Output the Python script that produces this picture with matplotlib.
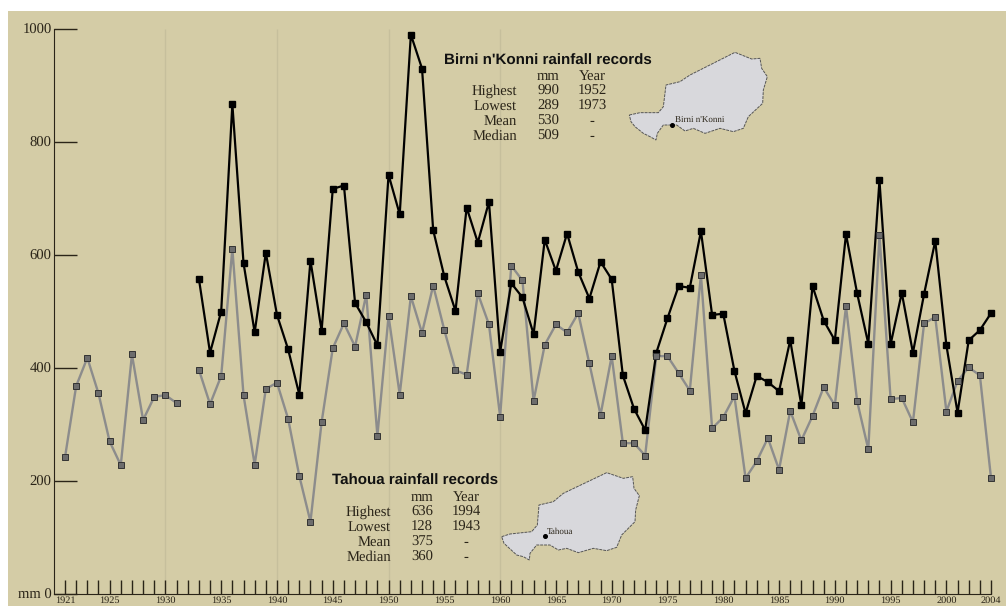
import numpy as np
import matplotlib
matplotlib.use('Agg')
import matplotlib.pyplot as plt
from matplotlib.patches import Polygon

plt.rcParams['text.hinting'] = 'no_hinting'

W = 1006
H = 606

bg = '#d4cca6'
ink = '#2a2418'

########################## data ################################

tahoua_years = np.arange(1921, 2005)
tahoua_mm = [242, 368, 418, 355, 270, 228, 424, 308, 349, 352, 338, np.nan,
             397, 336, 386, 611, 352, 229, 363, 374, 310, 209, 128, 304,
             435, 479, 438, 530, 280, 492, 353, 527, 462, 546, 467, 396,
             388, 532, 477, 314, 581, 555, 342, 441, 477, 463, 497, 408,
             317, 421, 267, 267, 245, 421, 421, 391, 360, 565, 293, 313,
             350, 205, 235, 276, 220, 324, 272, 315, 366, 334, 509, 341,
             256, 635, 345, 347, 304, 479, 490, 323, 377, 401, 387, 205]

konni_years = np.arange(1933, 2005)
konni_mm = [558, 427, 500, 867, 586, 463, 604, 494, 433, 353, 590, 466,
            717, 723, 515, 481, 440, 742, 672, 990, 930, 644, 562, 501,
            684, 622, 694, 428, 550, 525, 460, 627, 572, 638, 570, 523,
            588, 557, 387, 328, 290, 427, 488, 545, 542, 642, 494, 496,
            395, 320, 386, 375, 359, 449, 334, 545, 484, 449, 637, 532,
            443, 732, 442, 533, 427, 531, 625, 440, 321, 449, 467, 497]

y_ticks = [0, 200, 400, 600, 800, 1000]
y_labels = ['mm 0', '200', '400', '600', '800', '1000']
label_years = [1921, 1925] + list(range(1930, 2001, 5)) + [2004]
grid_years = [1930, 1940, 1950, 1960]

row_names = ['Highest', 'Lowest', 'Mean', 'Median']
tahoua_rows = [('636', '1994'), ('128', '1943'), ('375', '-'), ('360', '-')]
konni_rows = [('990', '1952'), ('289', '1973'), ('530', '-'), ('509', '-')]

# outlines of the little maps, in pixels of the picture
map_tahoua = [(35,230),(60,222),(125,215),(142,195),(147,135),(190,125),(220,100),
              (350,38),(400,55),(428,50),(432,85),(448,107),(437,150),(435,185),
              (395,225),(380,262),(350,272),(310,265),(265,278),(230,265),(205,270),
              (180,255),(140,255),(120,280),(118,300),(100,290),(80,285),(55,262),(42,250)]
map_konni = [(28,210),(60,203),(115,203),(130,185),(138,120),(180,110),(210,90),
             (345,22),(395,42),(420,40),(425,70),(442,95),(430,135),(428,175),
             (385,215),(370,250),(340,260),(300,250),(255,265),(220,250),(195,258),
             (170,240),(130,240),(112,265),(108,285),(90,275),(70,265),(45,245),(33,230)]

#################################################################

def fx(px):
	return px/W

def fy(py):
	return 1 - py/H

def records(title, rows, tx, ty, name_x, mm_x, year_x, row_y):
	fig.text(fx(tx), fy(ty), title, family='Liberation Sans', weight='bold',
		fontsize=10.9, va='center', ha='left', color='#111111')
	fig.text(fx(mm_x), fy(row_y[0]), 'mm', ha='right', va='center', **serif)
	fig.text(fx(year_x), fy(row_y[0]), 'Year', ha='center', va='center', **serif)
	for i in range(4):
		y = fy(row_y[i+1])
		fig.text(fx(name_x), y, row_names[i], ha='right', va='center_baseline', **serif)
		fig.text(fx(mm_x), y, rows[i][0], ha='right', va='center_baseline', **serif)
		fig.text(fx(year_x), y, rows[i][1], ha='center', va='center_baseline', **serif)

def niger(points, ox, oy, dot, name, name_x, name_y, size):
	pts = [(fx(ox + p[0]/3), fy(oy + p[1]/3)) for p in points]
	fig.add_artist(Polygon(pts, closed=True, transform=fig.transFigure, facecolor='#d8d8dc',
		edgecolor='#555555', linewidth=0.7, linestyle=(0, (3, 1)), zorder=3))
	fig.add_artist(plt.Line2D([fx(ox + dot[0]/3)], [fy(oy + dot[1]/3)], transform=fig.transFigure,
		marker='o', markersize=2.6, color='black', zorder=4))
	fig.text(fx(ox + name_x/3), fy(oy + name_y/3), name, family='Liberation Serif', fontsize=size,
		va='center', ha='left', color=ink, zorder=5)

serif = dict(family='Liberation Serif', fontsize=10.5, color=ink)

fig = plt.figure(figsize=(W/100, H/100), dpi=100, facecolor='white')
ax = fig.add_axes([8/W, 0, (W-8)/W, 1 - 11/H])
ax.set_facecolor(bg)

px_year = 11.157
px_mm = 0.565
ax.set_xlim(1921 + (8-65)/px_year, 1921 + (W-65)/px_year)
ax.set_ylim((594-606)/px_mm, (594-11)/px_mm)

for s in ['top', 'right']:
	ax.spines[s].set_visible(False)
ax.spines['left'].set_position(('data', 1920))
ax.spines['left'].set_bounds(0, 1000)
ax.spines['bottom'].set_position(('data', 0))
ax.spines['bottom'].set_bounds(1920, 2004)
ax.spines['left'].set_color(ink)
ax.spines['bottom'].set_color(ink)

ax.vlines(grid_years, 0, 1000, color='#c6bf9c', linewidth=1, zorder=1)

ax.set_yticks(y_ticks)
ax.set_yticklabels(y_labels, family='Liberation Serif', fontsize=10.5, color=ink, va='center_baseline')
ax.tick_params(axis='y', direction='in', length=16.8, width=1, color=ink, pad=1.5)

ax.set_xticks(tahoua_years)
ax.set_xticklabels([str(y) if y in label_years else '' for y in tahoua_years],
	family='Liberation Serif', fontsize=7.4, color=ink)
ax.tick_params(axis='x', direction='in', length=10, width=1, color=ink, pad=1.5)

ax.plot(tahoua_years, tahoua_mm, color='#8c8c8c', linewidth=1.7, zorder=2)
ax.plot(konni_years, konni_mm, color='black', linewidth=1.6, marker='s', markersize=4.3, zorder=3)
ax.plot(tahoua_years, tahoua_mm, linestyle='none', marker='s', markersize=4.2,
	markerfacecolor='#6c6c6c', markeredgecolor='#333333', markeredgewidth=0.7, zorder=4)

records('Birni n\'Konni rainfall records', konni_rows, 444, 60.5, 517, 559, 592, [76.5, 90, 105, 120, 135])
records('Tahoua rainfall records', tahoua_rows, 332, 480.5, 391, 433, 466, [497.5, 511, 526, 541, 556])

niger(map_konni, 620, 45, (157, 240), 'Birni n\'Konni', 165, 227, 6.5)
niger(map_tahoua, 490, 460, (165, 228), 'Tahoua', 170, 215, 6.5)

fig.savefig('out.png', dpi=100, facecolor='white')
